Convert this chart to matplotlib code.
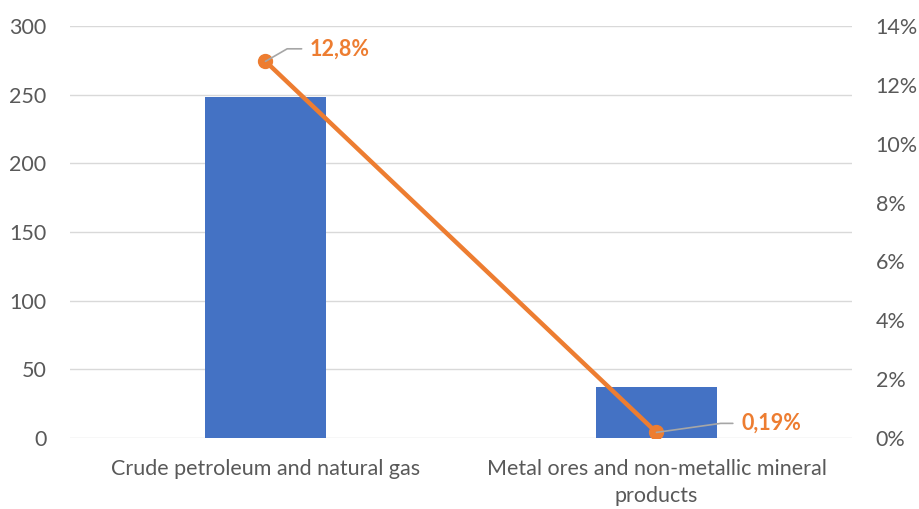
import matplotlib.pyplot as plt
from matplotlib.ticker import FuncFormatter

plt.rcParams['font.family'] = ['Lato', 'DejaVu Sans']

categories = ["Crude petroleum and natural gas",
              "Metal ores and non-metallic mineral\nproducts"]
values = [248, 37]
shares = [12.8, 0.19]
share_labels = ["12,8%", "0,19%"]

BAR = "#4472C4"
LINE = "#ED7D31"
TEXT = "#595959"
GRID = "#D9D9D9"

fig = plt.figure(figsize=(9.19, 5.09), dpi=100)
ax = fig.add_axes([0.0762, 0.1395, 0.8508, 0.8094])
ax2 = ax.twinx()

x = list(range(len(categories)))
ax.bar(x, values, width=0.31, color=BAR, zorder=2)
ax.set_xlim(-0.5, 1.5)
ax.set_ylim(0, 300)
ax.set_yticks(range(0, 301, 50))
ax.grid(axis='y', color=GRID, linewidth=1, zorder=0)
ax.set_axisbelow(True)
ax.set_xticks(x)
ax.set_xticklabels(categories, linespacing=1.45)
ax.tick_params(axis='both', length=0, colors=TEXT, labelsize=15.5)
ax.tick_params(axis='x', pad=15)
ax.tick_params(axis='y', pad=17)

ax2.plot(x, shares, color=LINE, linewidth=3.2, marker='o', markersize=10,
         solid_capstyle='round', zorder=3)
ax2.set_ylim(0, 14)
ax2.set_yticks(range(0, 15, 2))
ax2.yaxis.set_major_formatter(FuncFormatter(lambda v, p: f"{v:.0f}%"))
ax2.tick_params(axis='y', length=0, colors=TEXT, labelsize=15.5, pad=17)

for a in (ax, ax2):
    for s in a.spines.values():
        s.set_visible(False)

# value labels with leader lines
offsets = [(32, 9), (61, 6.5)]
angles = [30, 8]
for xi, yi, lab, (dx, dy), ang in zip(x, shares, share_labels, offsets, angles):
    ax2.annotate(lab, xy=(xi, yi), xytext=(dx, dy), textcoords='offset points',
                 color=LINE, fontsize=15.5, fontweight='bold', va='center', ha='left',
                 arrowprops=dict(arrowstyle='-', color='#A6A6A6', lw=1.2,
                                 shrinkA=4, shrinkB=0,
                                 connectionstyle=f'angle,angleA=0,angleB={ang},rad=0'))

fig.savefig("out.png", dpi=100)
